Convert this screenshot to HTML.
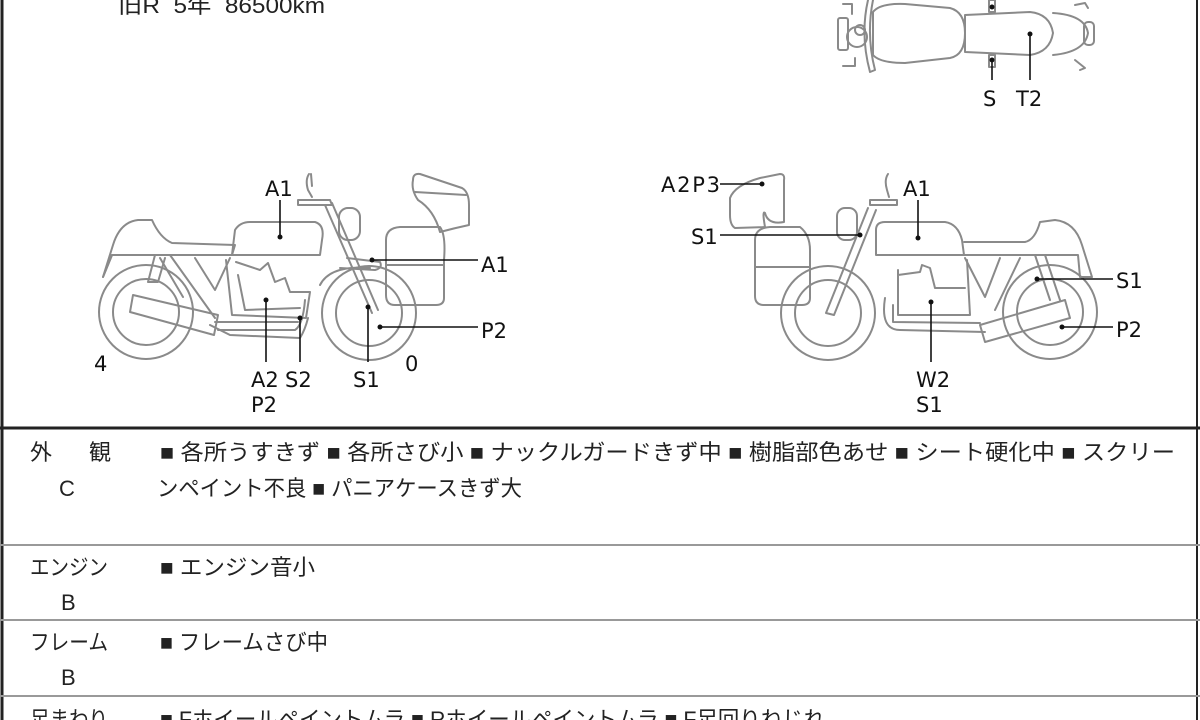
<!DOCTYPE html>
<html><head><meta charset="utf-8"><style>
html,body{margin:0;padding:0;background:#fff;width:1200px;height:720px;overflow:hidden}
svg{display:block}
.lb{font-family:"DejaVu Sans","Liberation Sans",sans-serif;font-size:21px;fill:#111}
.jp{font-family:"Liberation Sans","Noto Sans CJK JP",sans-serif;font-size:22px;fill:#222}
.d{fill:none;stroke:#8a8a8a;stroke-width:2;stroke-linejoin:round;stroke-linecap:round}
.c{stroke:#111;stroke-width:1.6;fill:none}
.dot{fill:#111}
</style></head><body>
<svg width="1200" height="720" viewBox="0 0 1200 720" xmlns="http://www.w3.org/2000/svg">
<rect x="0" y="0" width="1200" height="720" fill="#fff"/>
<line x1="2" y1="0" x2="2" y2="720" stroke="#222" stroke-width="3"/>
<line x1="1197" y1="0" x2="1197" y2="720" stroke="#222" stroke-width="2"/>
<line x1="0" y1="428" x2="1200" y2="428" stroke="#222" stroke-width="3"/>
<line x1="0" y1="545" x2="1200" y2="545" stroke="#999" stroke-width="2"/>
<line x1="0" y1="620" x2="1200" y2="620" stroke="#999" stroke-width="2"/>
<line x1="0" y1="696" x2="1200" y2="696" stroke="#999" stroke-width="2"/>

<text class="jp" x="118" y="13" font-size="26" xml:space="preserve" textLength="207" lengthAdjust="spacingAndGlyphs">旧R  5年  86500km</text>

<g class="d">
<path d="M873 12 Q880 3 905 4 L950 8 Q965 12 965 33 Q965 55 950 58 L905 63 Q880 63 873 55 Z"/>
<path d="M965 15 L1030 12 Q1050 14 1053 33 Q1050 52 1030 55 L965 52 Z"/>
<path d="M1053 13 Q1085 15 1088 33 Q1085 52 1053 55"/>
<rect x="1084" y="22" width="10" height="23" rx="4"/>
<circle cx="857" cy="37" r="10"/><circle cx="860" cy="30" r="5"/>
<rect x="838" y="18" width="10" height="32" rx="2"/>
<path d="M843 4 L852 4 L852 14"/><path d="M843 66 L855 66 L855 58"/>
<path d="M868 0 Q860 35 870 72 L875 70 Q866 35 873 0"/>
<rect x="989" y="0" width="6" height="12"/><rect x="989" y="55" width="6" height="12"/>
<path d="M1075 5 L1085 3 L1088 8"/><path d="M1075 60 L1085 68 L1080 70"/>
</g>
<line class="c" x1="992" y1="60" x2="992" y2="80"/><circle class="dot" cx="992" cy="60" r="2.5"/><circle class="dot" cx="992" cy="7" r="2.5"/>
<line class="c" x1="1030" y1="34" x2="1030" y2="80"/><circle class="dot" cx="1030" cy="34" r="2.5"/>
<text class="lb" x="983" y="106">S</text><text class="lb" x="1016" y="106">T2</text>

<g class="d">
<circle cx="146" cy="312" r="47"/><circle cx="146" cy="312" r="33"/>
<circle cx="369" cy="313" r="47"/><circle cx="369" cy="313" r="33"/>
<path d="M103 277 L113 245 Q120 222 138 220 L152 220 Q160 238 172 243 L235 245 L232 255 L112 255 Z"/>
<path d="M112 255 L103 277"/>
<path d="M235 230 Q240 222 250 222 L315 222 Q325 225 322 240 L320 255 L232 255 Z"/>
<path d="M232 255 L305 255"/>
<path d="M160 258 L183 297 M170 255 L215 318 M195 258 L215 290 L230 258"/>
<path d="M155 255 L148 282 L158 282 L165 258"/>
<path d="M226 260 L232 315 L306 318 L310 292 L290 292 L285 278 L275 282 L268 263 L260 270 L236 262"/>
<path d="M238 275 L245 310 L300 308"/>
<path d="M218 330 L295 330 Q303 325 305 300 M215 322 L298 322"/>
<path d="M133 295 L218 315 L214 335 L130 312 Z"/>
<path d="M210 325 L230 335 L300 338 Q305 330 308 318"/>
<path d="M325 205 L372 313 M332 203 L378 310"/>
<path d="M298 200 L330 200 L332 205 L298 205 Z"/>
<path d="M309 174 Q305 180 308 190 L312 197 M311 174 L312 186"/>
<rect x="339" y="208" width="21" height="32" rx="9"/>
<path d="M347 258 L380 262 Q383 268 375 270 L340 268 M320 285 Q330 265 370 268"/>
<path d="M386 240 Q386 228 400 227 L440 227 Q446 235 444 260 L444 298 Q444 305 436 305 L395 305 Q386 305 386 295 Z M386 265 L444 265"/>
<path d="M413 180 Q413 173 420 174 L462 188 Q469 192 469 205 L469 225 Q455 228 440 232 Q434 210 418 200 Q411 190 413 180 Z M415 192 L466 195"/>
</g>
<g>
<line class="c" x1="280" y1="200" x2="280" y2="237"/><circle class="dot" cx="280" cy="237" r="2.5"/>
<line class="c" x1="372" y1="260" x2="478" y2="260"/><circle class="dot" cx="372" cy="260" r="2.5"/>
<line class="c" x1="380" y1="327" x2="478" y2="327"/><circle class="dot" cx="380" cy="327" r="2.5"/>
<line class="c" x1="266" y1="300" x2="266" y2="362"/><circle class="dot" cx="266" cy="300" r="2.5"/>
<line class="c" x1="300" y1="318" x2="300" y2="362"/><circle class="dot" cx="300" cy="318" r="2.5"/>
<line class="c" x1="368" y1="307" x2="368" y2="362"/><circle class="dot" cx="368" cy="307" r="2.5"/>
<text class="lb" x="265" y="196">A1</text>
<text class="lb" x="481" y="272">A1</text>
<text class="lb" x="481" y="338">P2</text>
<text class="lb" x="251" y="387">A2</text><text class="lb" x="285" y="387">S2</text>
<text class="lb" x="353" y="387">S1</text>
<text class="lb" x="251" y="412">P2</text>
<text class="lb" x="94" y="371">4</text><text class="lb" x="405" y="371">0</text>
</g>

<g class="d">
<circle cx="828" cy="313" r="47"/><circle cx="828" cy="313" r="33"/>
<circle cx="1050" cy="312" r="47"/><circle cx="1050" cy="312" r="33"/>
<path d="M964 242 L1025 242 Q1035 240 1040 222 L1055 220 Q1075 222 1082 245 L1092 277 L1080 277 L1078 255 L962 255"/>
<path d="M876 230 Q876 222 885 222 L945 222 Q958 224 962 240 L964 255 L876 255 Z"/>
<path d="M890 255 L964 255"/>
<path d="M1000 258 L985 297 L965 258 M1020 258 L995 310 M1035 255 L1050 300 M1045 255 L1060 300"/>
<path d="M898 270 L898 315 L970 315 L967 260 M898 275 L920 272 L922 265 L930 268 L935 288 L965 288"/>
<path d="M885 298 Q880 330 900 330 L985 332 M893 305 L893 322 L980 323"/>
<path d="M980 325 L1065 300 L1070 318 L985 342 Z"/>
<path d="M868 208 L826 313 L834 315 L876 210"/>
<path d="M870 200 L897 200 L897 205 L870 205 Z"/>
<path d="M888 174 Q884 180 887 190 L889 197"/>
<rect x="837" y="208" width="20" height="32" rx="8"/>
<path d="M755 240 Q755 228 770 227 L800 227 Q810 235 810 250 L810 298 Q810 305 802 305 L764 305 Q755 305 755 296 Z M755 267 L810 267"/>
<path d="M730 198 Q735 185 760 178 L780 174 Q785 174 784 180 L784 222 Q768 225 765 213 Q762 210 765 227 L735 228 Q730 225 730 215 Z"/>
</g>
<g>
<line class="c" x1="720" y1="184" x2="762" y2="184"/><circle class="dot" cx="762" cy="184" r="2.5"/>
<line class="c" x1="720" y1="235" x2="860" y2="235"/><circle class="dot" cx="860" cy="235" r="2.5"/>
<line class="c" x1="918" y1="200" x2="918" y2="238"/><circle class="dot" cx="918" cy="238" r="2.5"/>
<line class="c" x1="1037" y1="279" x2="1113" y2="279"/><circle class="dot" cx="1037" cy="279" r="2.5"/>
<line class="c" x1="1062" y1="327" x2="1113" y2="327"/><circle class="dot" cx="1062" cy="327" r="2.5"/>
<line class="c" x1="931" y1="302" x2="931" y2="362"/><circle class="dot" cx="931" cy="302" r="2.5"/>
<text class="lb" x="661" y="192" textLength="59">A2P3</text>
<text class="lb" x="691" y="244">S1</text>
<text class="lb" x="903" y="196">A1</text>
<text class="lb" x="1116" y="288">S1</text>
<text class="lb" x="1116" y="337">P2</text>
<text class="lb" x="916" y="387">W2</text>
<text class="lb" x="916" y="412">S1</text>
</g>

<text class="jp" x="30" y="460">外</text><text class="jp" x="89" y="460">観</text>
<text class="jp" x="59" y="496" font-size="23">C</text>
<text class="jp" x="160" y="460" textLength="1015" lengthAdjust="spacingAndGlyphs">■ 各所うすきず ■ 各所さび小 ■ ナックルガードきず中 ■ 樹脂部色あせ ■ シート硬化中 ■ スクリー</text>
<text class="jp" x="157" y="496" textLength="365" lengthAdjust="spacingAndGlyphs">ンペイント不良 ■ パニアケースきず大</text>
<text class="jp" x="30" y="575" textLength="78" lengthAdjust="spacingAndGlyphs">エンジン</text>
<text class="jp" x="61" y="610" font-size="23">B</text>
<text class="jp" x="160" y="575" textLength="155" lengthAdjust="spacingAndGlyphs">■ エンジン音小</text>
<text class="jp" x="30" y="650" textLength="78" lengthAdjust="spacingAndGlyphs">フレーム</text>
<text class="jp" x="61" y="685" font-size="23">B</text>
<text class="jp" x="160" y="650" textLength="168" lengthAdjust="spacingAndGlyphs">■ フレームさび中</text>
<text class="jp" x="30" y="727" textLength="78" lengthAdjust="spacingAndGlyphs">足まわり</text>
<text class="jp" x="160" y="727" textLength="665" lengthAdjust="spacingAndGlyphs">■ Fホイールペイントムラ ■ Rホイールペイントムラ ■ F足回りねじれ</text>
</svg>
</body></html>
